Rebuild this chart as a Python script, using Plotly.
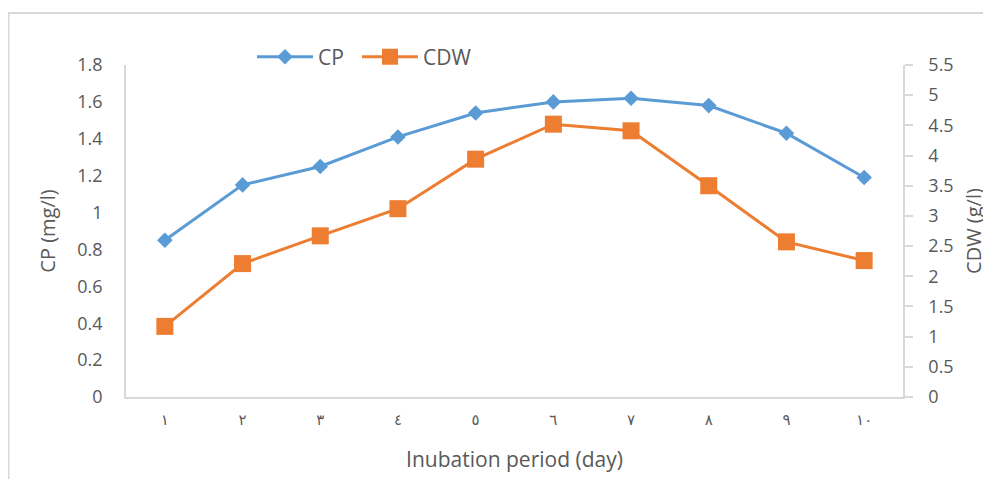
import plotly.graph_objects as go

days = [1, 2, 3, 4, 5, 6, 7, 8, 9, 10]
day_labels = ["١", "٢", "٣", "٤", "٥", "٦", "٧", "٨", "٩", "١٠"]
cp_values = [0.85, 1.15, 1.25, 1.41, 1.54, 1.60, 1.62, 1.58, 1.43, 1.19]
cdw_values = [1.17, 2.21, 2.67, 3.12, 3.94, 4.52, 4.41, 3.50, 2.57, 2.26]
cp_ticks = [0, 0.2, 0.4, 0.6, 0.8, 1, 1.2, 1.4, 1.6, 1.8]
cdw_ticks = [0, 0.5, 1, 1.5, 2, 2.5, 3, 3.5, 4, 4.5, 5, 5.5]

FONT = "Open Sans"
GREY = "#595959"
AXIS = "#d9d9d9"

# plot area geometry in figure pixels
ML, MT, PW, PH = 118, 57, 777, 332

fig = go.Figure()
fig.add_trace(go.Scatter(
    x=days, y=cp_values, name="CP", mode="lines+markers",
    line=dict(color="#5B9BD5", width=3),
    marker=dict(symbol="diamond", size=12, color="#5B9BD5"),
    yaxis="y", legend="legend",
))
fig.add_trace(go.Scatter(
    x=days, y=cdw_values, name="CDW", mode="lines+markers",
    line=dict(color="#ED7D31", width=3),
    marker=dict(symbol="square", size=17, color="#ED7D31"),
    yaxis="y2", legend="legend2",
))

legend_common = dict(orientation="h", y=1.024, xanchor="left", yanchor="middle",
                     font=dict(size=21, color=GREY), itemwidth=56,
                     bgcolor="rgba(0,0,0,0)")

fig.update_layout(
    width=991, height=479,
    margin=dict(l=ML, r=991 - ML - PW, t=MT, b=479 - MT - PH, autoexpand=False),
    paper_bgcolor="white", plot_bgcolor="white",
    font=dict(family=FONT, color=GREY, size=18),
    showlegend=True,
    legend=dict(x=(249 - 5 - ML) / PW, **legend_common),
    legend2=dict(x=(354 - 5 - ML) / PW, **legend_common),
    xaxis=dict(
        range=[0.5, 10.5], tickvals=days, ticktext=day_labels,
        showline=True, linecolor=AXIS, linewidth=1.5, showgrid=False, zeroline=False,
        ticks="outside", ticklen=8, tickcolor="rgba(0,0,0,0)",
        tickfont=dict(size=15, color=GREY, family="DejaVu Sans"),
        title=dict(text="Inubation period (day)", font=dict(size=21, color=GREY), standoff=25),
    ),
    yaxis=dict(
        range=[0, 1.8], tickvals=cp_ticks,
        showline=True, linecolor=AXIS, linewidth=1.5, showgrid=False, zeroline=False,
        ticks="outside", ticklen=18, tickcolor="rgba(0,0,0,0)",
        tickfont=dict(size=18, color=GREY),
        title=dict(text="CP (mg/l)", font=dict(size=20, color=GREY), standoff=16),
    ),
    yaxis2=dict(
        range=[0, 5.5], tickvals=cdw_ticks, overlaying="y", side="right",
        showline=True, linecolor=AXIS, linewidth=1.5, showgrid=False, zeroline=False,
        ticks="outside", ticklen=8, tickcolor=AXIS, tickwidth=1.5,
        ticklabelstandoff=12,
        tickfont=dict(size=18, color=GREY),
        title=dict(text="CDW (g/l)", font=dict(size=20, color=GREY), standoff=14),
    ),
    shapes=[dict(
        type="rect", xref="paper", yref="paper",
        x0=(0.5 - ML) / PW, x1=(1010 - ML) / PW,
        y0=-0.4, y1=(MT + PH - 5) / PH,
        line=dict(color=AXIS, width=2), fillcolor="rgba(0,0,0,0)", layer="below",
    )],
)

fig.write_html("out.html")
